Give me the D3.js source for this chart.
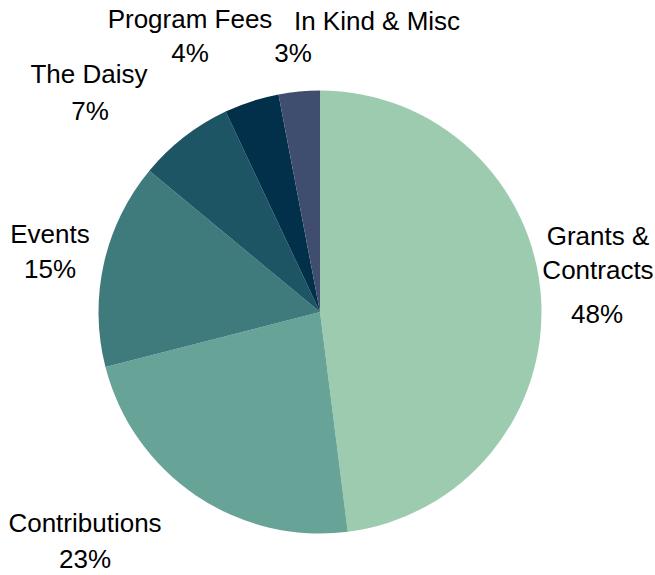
<!DOCTYPE html>
<html><head><meta charset="utf-8">
<script src="https://cdn.jsdelivr.net/npm/d3@7"></script>
<style>body{margin:0;background:#fff}svg{display:block}</style>
</head><body>
<script>
const categories = ["Grants & Contracts","Contributions","Events","The Daisy","Program Fees","In Kind & Misc"];
const values = [48,23,15,7,4,3];
const colors = ["#9dcbb0","#68a398","#3f7b7d","#1d5565","#02304a","#3f4e6e"];
const labelLines = [["Grants &","Contracts"],["Contributions"],["Events"],["The Daisy"],["Program Fees"],["In Kind & Misc"]];
// layout: [nameX, nameY(first baseline), pctX, pctY]
const labelLayout = [[598,245,597,323],[85,532,85,568],[50,243,50,278],[89,83,90,120],[190,28,190,62],[377,30,293,62]];

const W=655,H=575,cx=320,cy=312,R=221.5;
const svg=d3.select("body").append("svg").attr("width",W).attr("height",H);
const pie=d3.pie().sort(null).value(d=>d)(values);
const arc=d3.arc().innerRadius(0).outerRadius(R);
const g=svg.append("g").attr("transform",`translate(${cx},${cy})`);
g.selectAll("path").data(pie).join("path").attr("d",arc).attr("fill",(d,i)=>colors[i]);

const font="'Liberation Sans', Arial, sans-serif";
categories.forEach((c,i)=>{
  const L=labelLayout[i];
  const lines=labelLines[i];
  const t=svg.append("text").attr("font-family",font).attr("font-size",26).attr("fill","#000").attr("text-anchor","middle");
  lines.forEach((ln,j)=>{
    t.append("tspan").attr("x",L[0]).attr("y",L[1]+j*34).text(ln);
  });
  svg.append("text").attr("font-family",font).attr("font-size",26).attr("fill","#000").attr("text-anchor","middle")
    .attr("x",L[2]).attr("y",L[3]).text(values[i]+"%");
});
</script>
</body></html>
